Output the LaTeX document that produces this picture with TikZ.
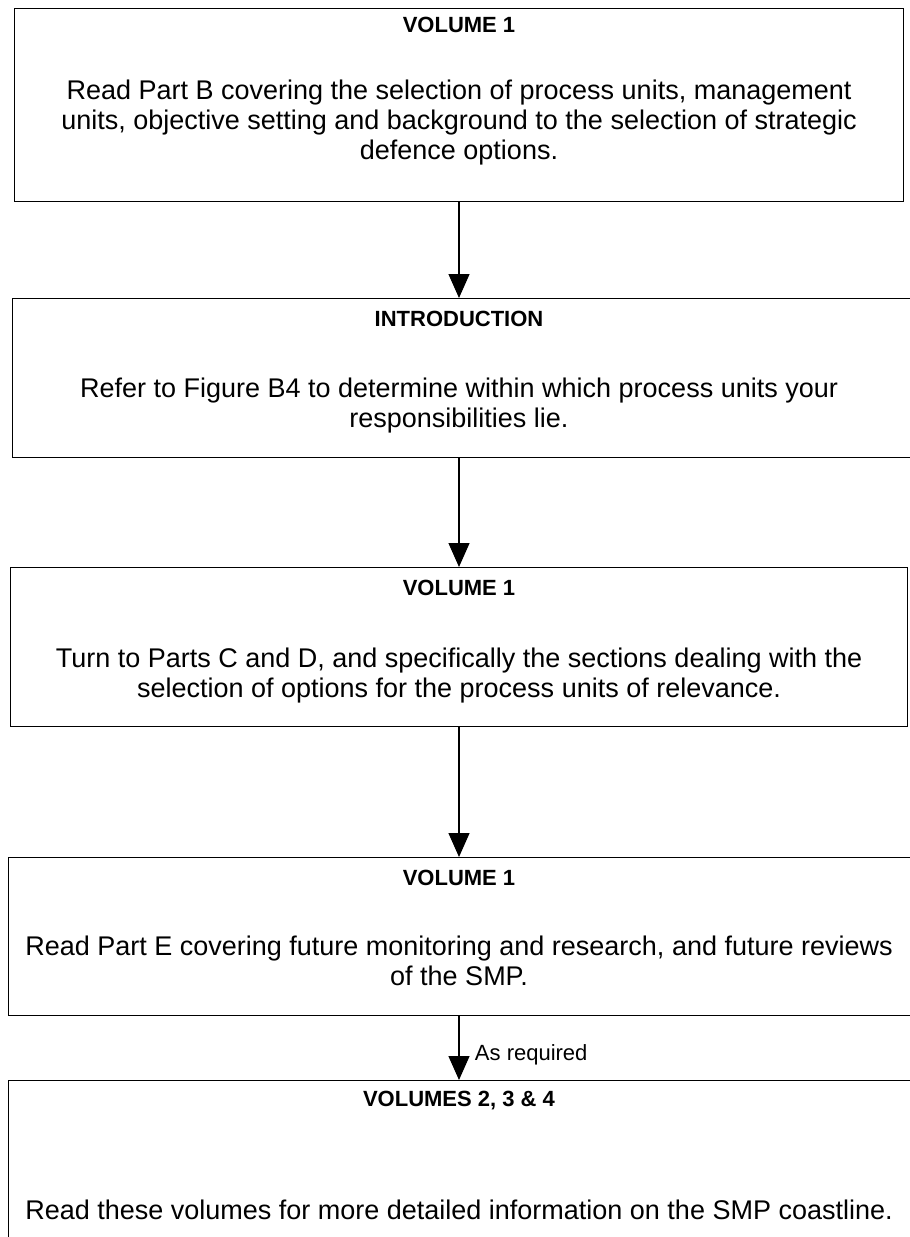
\documentclass[tikz,border=0pt]{standalone}
\usepackage{fontspec}
\setmainfont{Liberation Sans}
\usetikzlibrary{positioning,arrows.meta}

\tikzset{
  panel/.style={draw, line width=1.4pt, anchor=north west, inner sep=0pt},
  heading/.style={font=\bfseries\fontsize{22}{26}\selectfont},
  body/.style={align=center, anchor=north, font=\fontsize{27}{30}\selectfont},
  flow/.style={line width=1.3pt, -{Triangle[length=24pt,width=21pt]}},
}

\begin{document}
\begin{tikzpicture}[x=1pt,y=-1pt]

  \clip (0,0) rectangle (910,1237);
  \fill[white] (0,0) rectangle (910,1237);

  % the five reading steps
  \node[panel, minimum width=889pt, minimum height=193pt] (box1) at (14,8) {};
  \node[panel, minimum width=920pt, minimum height=159pt] (box2) at (12,298) {};
  \node[panel, minimum width=897pt, minimum height=159pt] (box3) at (10,567) {};
  \node[panel, minimum width=920pt, minimum height=158pt] (box4) at (8,857) {};
  \node[panel, minimum width=920pt, minimum height=240pt] (box5) at (8,1080) {};

  \node[heading] (t1) at (459,25) {VOLUME 1};
  \node[body] (b1) at (459,76) {Read Part B covering the selection of process units, management\\
    units, objective setting and background to the selection of strategic\\
    defence options.};

  \node[heading] (t2) at (459,319) {INTRODUCTION};
  \node[body] (b2) at (459,374) {Refer to Figure B4 to determine within which process units your\\
    responsibilities lie.};

  \node[heading] (t3) at (459,588) {VOLUME 1};
  \node[body] (b3) at (459,644) {Turn to Parts C and D, and specifically the sections dealing with the\\
    selection of options for the process units of relevance.};

  \node[heading] (t4) at (459,878) {VOLUME 1};
  \node[body] (b4) at (459,932) {Read Part E covering future monitoring and research, and future reviews\\
    of the SMP.};

  \node[heading] (t5) at (459,1101) {VOLUMES 2, 3 \& 4};
  \node[body] (b5) at (459,1196) {Read these volumes for more detailed information on the SMP coastline.};

  % arrows between the steps
  \draw[flow] (box1.south -| t1) -- (box2.north -| t1);
  \draw[flow] (box2.south -| t1) -- (box3.north -| t1);
  \draw[flow] (box3.south -| t1) -- (box4.north -| t1);
  \draw[flow] (box4.south -| t1) -- node[right=12pt, pos=0.6, font=\fontsize{22}{26}\selectfont] (req) {As required} (box5.north -| t1);

\end{tikzpicture}
\end{document}
